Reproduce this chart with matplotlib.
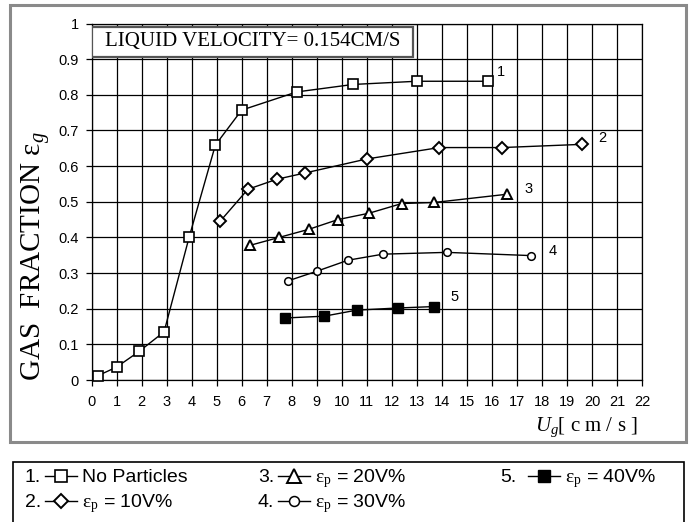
import matplotlib
matplotlib.use("Agg")
import matplotlib.pyplot as plt
from matplotlib.patches import Rectangle
from matplotlib.lines import Line2D

plt.rcParams["mathtext.fontset"] = "custom"
plt.rcParams["mathtext.rm"] = "Liberation Serif"
plt.rcParams["mathtext.it"] = "Liberation Serif:italic"

SANS = ["Liberation Sans", "DejaVu Sans"]
SERIF = ["Liberation Serif", "DejaVu Serif"]

# Gas velocity Ug [cm/s] and gas fraction for each particle loading
ug_none = [0.25, 1.0, 1.9, 2.9, 3.9, 4.95, 6.0, 8.2, 10.45, 13.0, 15.85]
eg_none = [0.012, 0.036, 0.080, 0.135, 0.400, 0.659, 0.757, 0.808, 0.829, 0.838, 0.838]

ug_10 = [5.15, 6.25, 7.4, 8.55, 11.0, 13.9, 16.4, 19.6]
eg_10 = [0.446, 0.535, 0.563, 0.581, 0.620, 0.652, 0.652, 0.661]

ug_20 = [6.35, 7.5, 8.7, 9.85, 11.1, 12.4, 13.7, 16.6]
eg_20 = [0.378, 0.400, 0.423, 0.450, 0.468, 0.495, 0.498, 0.521]

ug_30 = [7.85, 9.0, 10.25, 11.65, 14.2, 17.55]
eg_30 = [0.278, 0.305, 0.336, 0.353, 0.358, 0.349]

ug_40 = [7.75, 9.3, 10.6, 12.25, 13.7]
eg_40 = [0.174, 0.179, 0.196, 0.202, 0.206]

curve_ids = ["1", "2", "3", "4", "5"]
legend_texts = ["No Particles",
                r"$\mathrm{ε}_\mathrm{p}$ = 10V%",
                r"$\mathrm{ε}_\mathrm{p}$ = 20V%",
                r"$\mathrm{ε}_\mathrm{p}$ = 30V%",
                r"$\mathrm{ε}_\mathrm{p}$ = 40V%"]
x_ticks = list(range(0, 23))
y_ticks = [0, 0.1, 0.2, 0.3, 0.4, 0.5, 0.6, 0.7, 0.8, 0.9, 1]
y_ticklabels = ["0", "0.1", "0.2", "0.3", "0.4", "0.5", "0.6", "0.7", "0.8", "0.9", "1"]

styles = [
    dict(marker="s", ms=6.5, mfc="white", mec="black", mew=1.2),
    dict(marker="D", ms=5.8, mfc="white", mec="black", mew=1.4),
    dict(marker="^", ms=7.5, mfc="white", mec="black", mew=1.4),
    dict(marker="o", ms=5.5, mfc="white", mec="black", mew=1.1),
    dict(marker="s", ms=6.5, mfc="black", mec="black", mew=1.0),
]
series = [(ug_none, eg_none), (ug_10, eg_10), (ug_20, eg_20), (ug_30, eg_30), (ug_40, eg_40)]
# position of the curve number next to each curve's last point (offset in data units)
id_offsets = [(0.5, 0.027), (0.8, 0.017), (0.85, 0.014), (0.9, 0.014), (0.8, 0.028)]

W, H = 697, 522
fig = plt.figure(figsize=(W / 100, H / 100), dpi=100)
ax = fig.add_axes([91.5 / W, 1 - 380 / H, (642 - 91.5) / W, (380 - 23.5) / H])

for (xs, ys), st, cid, (dx, dy) in zip(series, styles, curve_ids, id_offsets):
    ax.plot(xs, ys, color="black", lw=1.0, zorder=3, clip_on=False, **st)
    ax.text(xs[-1] + dx, ys[-1] + dy, cid, fontsize=10.5, family=SANS,
            ha="center", va="center", zorder=4)

ax.set_xlim(0, 22)
ax.set_ylim(0, 1)
ax.set_xticks(x_ticks)
ax.set_yticks(y_ticks)
ax.set_yticklabels(y_ticklabels)
ax.grid(True, color="black", lw=0.9)
ax.set_axisbelow(True)
for sp in ax.spines.values():
    sp.set_linewidth(0.9)
ax.tick_params(direction="out", length=4, width=0.9, labelsize=10.5)
ax.tick_params(axis="x", pad=7)
ax.tick_params(axis="y", pad=5)
for lab in ax.get_xticklabels() + ax.get_yticklabels():
    lab.set_family(SANS)

# boxed annotation of the liquid velocity
ax.add_patch(Rectangle((0, 0.907), 0.584, 0.084, transform=ax.transAxes,
                       facecolor="white", edgecolor="#555555", lw=1.6, zorder=5))
ax.text(0.292, 0.949, "LIQUID VELOCITY= 0.154CM/S", transform=ax.transAxes,
        ha="center", va="center", fontsize=15, family=SERIF, zorder=6)

# axis titles
fig.text(35 / W, 1 - 256 / H, r"GAS  FRACTION $\mathrm{ε}_{g}$", rotation=90,
         ha="center", va="center", fontsize=21, family=SERIF)
fig.text(586 / W, 1 - 427 / H, r"$U_g$[ c m / s ]", ha="center", va="center",
         fontsize=15, family=SERIF)

# outer frame around the chart
fig.add_artist(Rectangle((10 / W, 1 - 442 / H), 676 / W, 437 / H, transform=fig.transFigure,
                         fill=False, edgecolor="#8a8a8a", lw=2.2))

# legend box below the chart
fig.add_artist(Rectangle((13 / W, -0.01), 671 / W, 1 - 461.5 / H + 0.01,
                         transform=fig.transFigure, fill=False, edgecolor="black", lw=1.2))

# (x of the number, text baseline) for each legend entry, in pixels
legend_cells = [(25, 482), (25, 507), (258, 482), (258, 507), (500, 482)]
for i, ((px, base), st) in enumerate(zip(legend_cells, styles)):
    yb = 1 - base / H
    ym = 1 - (base - 6.5) / H
    fig.text(px / W, yb, curve_ids[i] + ".", fontsize=14, family=SANS,
             ha="left", va="baseline")
    x0 = px + 20 + (8 if i == 4 else 0)
    fig.add_artist(Line2D([x0 / W, (x0 + 32) / W], [ym, ym], transform=fig.transFigure,
                          color="black", lw=1.0))
    mk = dict(st)
    mk["ms"] = st["ms"] * 1.3
    fig.add_artist(Line2D([(x0 + 16) / W], [ym], transform=fig.transFigure,
                          color="black", lw=0, **mk))
    fig.text((x0 + 37) / W, yb, legend_texts[i], fontsize=14, family=SANS,
             ha="left", va="baseline")

fig.savefig("out.png", dpi=100)
